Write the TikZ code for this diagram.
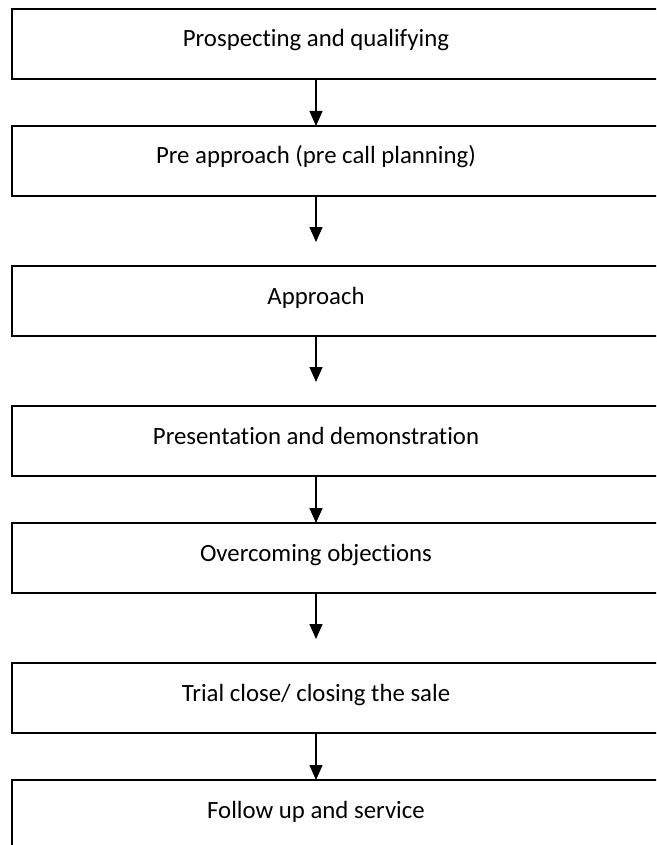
\documentclass[tikz,border=0pt]{standalone}
\usepackage{fontspec}
\setmainfont{Carlito}[Ligatures={NoCommon,NoContextual}]
\usetikzlibrary{arrows.meta}
\begin{document}
\begin{tikzpicture}[x=1pt,y=-1pt,
  stagebox/.style={draw=black, line width=1.6pt, rectangle, anchor=north west,
    minimum width=648pt, minimum height=70pt, inner sep=0pt, outer sep=0pt},
  stagetext/.style={anchor=base, inner sep=0pt, font=\fontsize{24.8pt}{28pt}\selectfont},
  flow/.style={line width=1.3pt, -{Triangle[length=15pt,width=13pt]}}]
\useasboundingbox (0,0) rectangle (656,845);
\clip (0,0) rectangle (656,845);
\fill[white] (0,0) rectangle (656,845);
% boxes
\node[stagebox] (b1) at (12,9) {};
\node[stagebox] (b2) at (12,126) {};
\node[stagebox] (b3) at (12,266) {};
\node[stagebox] (b4) at (12,406) {};
\node[stagebox] (b5) at (12,523) {};
\node[stagebox] (b6) at (12,663) {};
\node[stagebox] (b7) at (12,780) {};
% texts
\node[stagetext] (t1) at (316,47) {Prospecting and qualifying};
\node[stagetext] (t2) at (316,164) {Pre approach (pre call planning)};
\node[stagetext] (t3) at (316,304) {Approach};
\node[stagetext] (t4) at (316,444) {Presentation and demonstration};
\node[stagetext] (t5) at (316,561) {Overcoming objections};
\node[stagetext] (t6) at (316,701) {Trial close/ closing the sale};
\node[stagetext] (t7) at (316,818) {Follow up and service};
% free arrow ends
\coordinate (e2) at (316,242);
\coordinate (e3) at (316,382);
\coordinate (e5) at (316,639);
% arrows
\draw[flow] (b1.south -| t1) -- (b2.north -| t1);
\draw[flow] (b2.south -| t2) -- (e2);
\draw[flow] (b3.south -| t3) -- (e3);
\draw[flow] (b4.south -| t4) -- (b5.north -| t4);
\draw[flow] (b5.south -| t5) -- (e5);
\draw[flow] (b6.south -| t6) -- (b7.north -| t6);
\end{tikzpicture}
\end{document}
